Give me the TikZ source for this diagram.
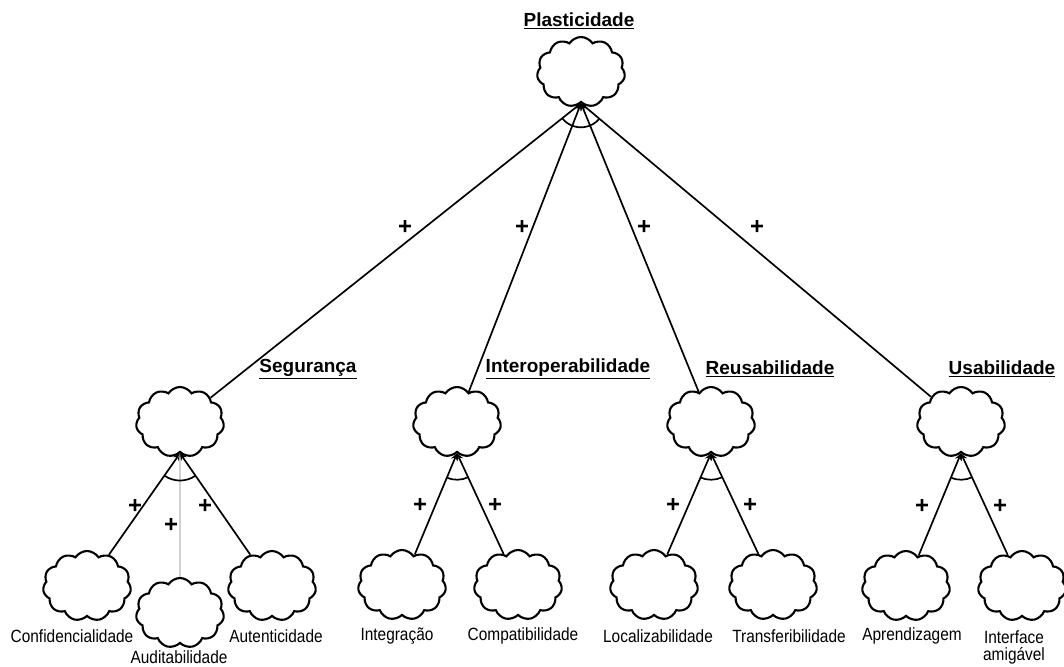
\documentclass[tikz,border=0pt]{standalone}
\usepackage{fontspec}
\setmainfont{Liberation Sans}
\newfontfamily\leaffont[FakeStretch=0.87]{Liberation Sans}
\usetikzlibrary{calc,shapes.symbols,arrows}

\begin{document}
\begin{tikzpicture}[x=0.025cm, y=0.025cm, >=stealth,
    goal/.style={cloud, cloud puffs=11, cloud puff arc=115, aspect=1.25,
      draw, line width=1.5pt, minimum width=2.2cm, minimum height=1.75cm,
      inner sep=0pt},
    goaltitle/.style={font=\fontsize{13.5pt}{15pt}\selectfont\bfseries},
    leafname/.style={font=\leaffont\fontsize{12.6pt}{13pt}\selectfont, align=center},
    plussign/.style={font=\fontsize{17pt}{18pt}\selectfont\bfseries},
    link/.style={->, line width=1.2pt}]
    \useasboundingbox (0,0) rectangle (1064,-666);
    % softgoals
    \node[goal] (top) at (581,-72) {};
    \node[goal] (seg) at (180,-422) {};
    \node[goal] (inter) at (457,-422) {};
    \node[goal] (reus) at (711,-422) {};
    \node[goal] (usab) at (961,-422) {};
    \node[goal] (conf) at (87,-586) {};
    \node[goal] (aud) at (180,-613) {};
    \node[goal] (aut) at (272,-586) {};
    \node[goal] (integ) at (402,-585) {};
    \node[goal] (compat) at (518,-585) {};
    \node[goal] (local) at (654,-585) {};
    \node[goal] (transf) at (773,-585) {};
    \node[goal] (aprend) at (906,-586) {};
    \node[goal] (interf) at (1022,-586) {};
    % titles
    \node[goaltitle] (topname) at (579,-21) {\underline{Plasticidade}};
    \node[goaltitle] (segname) at (308,-369) {\underline{Segurança}};
    \node[goaltitle] (intername) at (568,-369) {\underline{Interoperabilidade}};
    \node[goaltitle] (reusname) at (770,-369) {\underline{Reusabilidade}};
    \node[goaltitle] (usabname) at (1002,-369) {\underline{Usabilidade}};
    % names
    \node[leafname] (confname) at (72,-636) {Confidencialidade};
    \node[leafname] (audname) at (179,-657) {Auditabilidade};
    \node[leafname] (autname) at (276,-636) {Autenticidade};
    \node[leafname] (integname) at (397,-636) {Integração};
    \node[leafname] (compatname) at (523,-636) {Compatibilidade};
    \node[leafname] (localname) at (658,-636) {Localizabilidade};
    \node[leafname] (transfname) at (789,-636) {Transferibilidade};
    \node[leafname] (aprendname) at (912,-636) {Aprendizagem};
    \node[leafname] (interfname) at (1014,-647) {Interface\\[-1pt]amigável};
    % contributions
    \draw[link] (seg) -- (top.south);
    \draw[link] (inter) -- (top.south);
    \draw[link] (reus) -- (top.south);
    \draw[link] (usab) -- (top.south);
    \draw[link] (conf) -- (seg.south);
    \draw[->, line width=0.5pt, gray] (aud) -- (seg.south);
    \draw[link] (aut) -- (seg.south);
    \draw[link] (integ) -- (inter.south);
    \draw[link] (compat) -- (inter.south);
    \draw[link] (local) -- (reus.south);
    \draw[link] (transf) -- (reus.south);
    \draw[link] (aprend) -- (usab.south);
    \draw[link] (interf) -- (usab.south);
    % and-arcs
    \foreach \up/\a/\b/\r in {top/seg/usab/0.6cm, seg/conf/aut/0.68cm,
        inter/integ/compat/0.66cm, reus/local/transf/0.66cm, usab/aprend/interf/0.66cm}
      \draw[line width=1.2pt] let \p1=($(\a)-(\up.south)$), \p2=($(\b)-(\up.south)$),
        \n1={atan2(\y1,\x1)}, \n2={atan2(\y2,\x2)} in
        ($(\up.south)+(\n1:\r)$) arc[start angle=\n1, end angle=\n2, radius=\r];
    % plus signs
    \node[plussign] (p1) at (405,-227) {+};
    \node[plussign] (p2) at (522,-227) {+};
    \node[plussign] (p3) at (644,-227) {+};
    \node[plussign] (p4) at (757,-227) {+};
    \node[plussign] (p5) at (135,-506) {+};
    \node[plussign] (p6) at (171,-525) {+};
    \node[plussign] (p7) at (205,-506) {+};
    \node[plussign] (p8) at (420,-505) {+};
    \node[plussign] (p9) at (495,-505) {+};
    \node[plussign] (p10) at (673,-505) {+};
    \node[plussign] (p11) at (750,-505) {+};
    \node[plussign] (p12) at (922,-506) {+};
    \node[plussign] (p13) at (1000,-506) {+};
\end{tikzpicture}
\end{document}
